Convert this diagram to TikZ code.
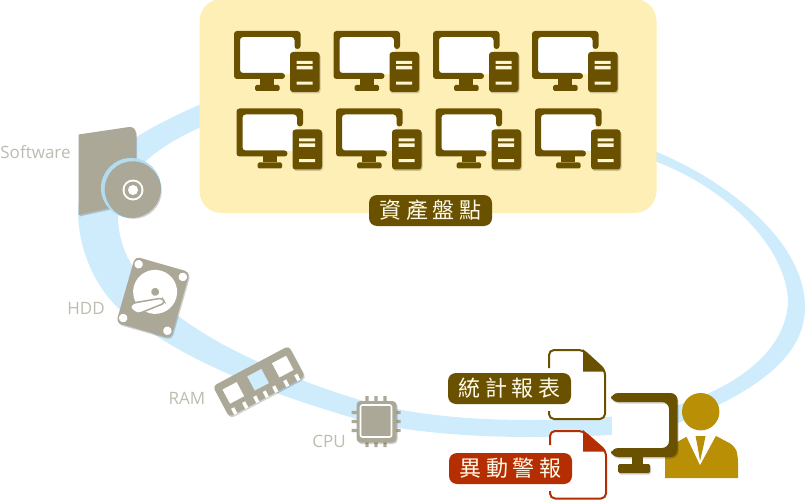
\documentclass[tikz,border=0pt]{standalone}
\usepackage{fontspec}
\setmainfont{Open Sans}
\newfontfamily\cjk[LetterSpace=20]{Noto Sans CJK TC}
\usetikzlibrary{shadows}
\definecolor{myband}{RGB}{207,236,253}
\definecolor{myring}{RGB}{178,220,240}
\definecolor{myyellow}{RGB}{253,239,181}
\definecolor{mybrown}{RGB}{105,81,0}
\definecolor{mygray}{RGB}{172,168,152}
\definecolor{myred}{RGB}{181,46,2}
\definecolor{mygold}{RGB}{184,143,5}
\definecolor{mylabel}{RGB}{190,187,175}
\tikzset{
  softshadow/.style={drop shadow={shadow xshift=1pt,shadow yshift=-1.5pt,opacity=.18,fill=black}},
  pill/.style={rounded corners=8pt,text=myyellow!30!white,font=\cjk\fontsize{22}{26}\selectfont,
    minimum height=31pt,inner sep=0pt,anchor=center},
  partlabel/.style={text=mylabel,font=\fontsize{17}{20}\selectfont,inner sep=0pt},
  pc/.pic={
    \fill[white] (5,5) rectangle (61,43);
    \fill[mybrown,even odd rule,rounded corners=3pt] (0,0) -- (66.5,0) -- (66.5,18) -- (60.5,18) -- (60.5,6) -- (6,6) -- (6,42) -- (51,42) -- (51,48) -- (0,48) -- cycle;
    \fill[mybrown] (26,48) rectangle (40,54);
    \fill[mybrown,rounded corners=1.5pt] (21,54) rectangle (45.5,60);
    \fill[mybrown,rounded corners=3pt,softshadow] (56,21) rectangle (85.5,61);
    \fill[myyellow!60!white] (62.5,30) rectangle (78.5,33) (62.5,35) rectangle (78.5,38.3) (62.5,50.7) rectangle (78.5,53.7);
  }
}
\begin{document}
\begin{tikzpicture}[x=1pt,y=-1pt]
\useasboundingbox (0,0) rectangle (806,500);

% blue band
\fill[myband,even odd rule]
  (78,210) .. controls (78,170) and (130,135) .. (199,105)
  .. controls (350,75) and (540,105) .. (657,152)
  .. controls (735,185) and (805,245) .. (805,307)
  .. controls (805,355) and (760,390) .. (678,423)
  .. controls (650,434) and (600,437) .. (530,437)
  .. controls (470,437) and (400,432) .. (353,418)
  .. controls (280,396) and (185,365) .. (117,307)
  .. controls (95,285) and (78,250) .. (78,210) -- cycle
  (118,215) .. controls (118,180) and (150,150) .. (199,128)
  .. controls (340,85) and (540,120) .. (657,162)
  .. controls (730,190) and (788,250) .. (788,303)
  .. controls (785,350) and (740,385) .. (678,405)
  .. controls (650,414) and (600,420) .. (530,420)
  .. controls (470,420) and (410,415) .. (360,400)
  .. controls (300,382) and (205,345) .. (160,300)
  .. controls (135,275) and (118,250) .. (118,215) -- cycle;

% asset box
\fill[myyellow,rounded corners=22pt] (199.5,-1) rectangle (656.5,213);
\foreach \x in {234,333.5,433,532}
  \pic at (\x,31) {pc};
\foreach \x in {236.5,336,435.5,535}
  \pic at (\x,108.5) {pc};
\node[pill,fill=mybrown,minimum width=123pt] (assets) at (430.5,210.5) {資產盤點};

% software
\fill[mygray,softshadow] (78.5,134.5) -- (129,127) .. controls (134,126.5) and (136,130) .. (136,135) -- (136,200) -- (110,208) -- (78.5,215) -- cycle;
\fill[myring] (131,188) circle (30pt);
\fill[mygray,softshadow] (132.7,189.3) circle (28pt);
\fill[white] (133,190) circle (10.5pt);
\fill[mygray] (133,190) circle (8.5pt);
\fill[white] (133,190) circle (5pt);
\node[partlabel] (software) at (35.5,152) {Software};

% hdd
\begin{scope}[shift={(153,297.5)},rotate=-16]
  \fill[mygray,rounded corners=5pt,softshadow] (-28.5,-34.5) rectangle (28.5,34.5);
  \foreach \x/\y in {-23/-28,23/-28,-23/28,23/28}
    \fill[white] (\x,\y) circle (4.3pt);
  \fill[white] (0.5,-6) circle (22pt);
  \fill[mygray] (0.5,-6) circle (4pt);
  \draw[mygray,fill=white,line width=1.5pt,rounded corners=3pt] (-19,17) -- (-19,12) -- (-14,9) -- (9,-2) -- (13,2) -- (-10,20) -- cycle;
\end{scope}
\node[partlabel] (hdd) at (86,308.5) {HDD};

% ram
\begin{scope}[shift={(259,381.5)},rotate=28]
  \fill[mygray,rounded corners=4pt,softshadow] (-43,-17.5) rectangle (43,17.5);
  \fill[white] (-37.5,11) rectangle (-34,17.8) (-25,11) rectangle (-21.5,17.8) (-12.5,11) rectangle (-9,17.8) (-1.7,11) rectangle (1.7,17.8) (9,11) rectangle (12.5,17.8) (21.5,11) rectangle (25,17.8) (34,11) rectangle (37.5,17.8);
  \fill[white] (-36,-10) rectangle (-20,6) (20,-10) rectangle (36,6);
  \fill[myband] (-8,-10) rectangle (8,6);
\end{scope}
\node[partlabel] (ram) at (187,398.5) {RAM};

% cpu
\fill[mygray] \foreach \p in {-9,0,9} {(376+\p-1.7,396) rectangle (376+\p+1.7,447) (351.5,421.5+\p-1.7) rectangle (400.5,421.5+\p+1.7)};
\fill[mygray,rounded corners=4pt,softshadow] (356.5,401) rectangle (396.5,442.5);
\draw[white,line width=1.6pt,rounded corners=2pt] (360.5,405) rectangle (391.5,437);
\node[partlabel] (cpu) at (329,441.5) {CPU};

% report files
\fill[white] (549,350) -- (583,350) -- (605,370) -- (605,419) -- (549,419) -- cycle;
\draw[mybrown,line width=2pt,rounded corners=5pt] (549,368) -- (549,350) -- (583,350) -- (605,370) -- (605,419) -- (549,419) -- (549,411);
\fill[mybrown] (583,349) -- (605,371.5) -- (583,371.5) -- cycle;
\fill[white] (550,431) -- (583,431) -- (606,451) -- (606,499) -- (550,499) -- cycle;
\draw[myred,line width=2pt,rounded corners=5pt] (550,445) -- (550,431) -- (583,431) -- (606,451) -- (606,498.5) -- (550,498.5) -- (550,491);
\fill[myred] (583,430) -- (605.5,451.5) -- (583,451.5) -- cycle;
\node[pill,fill=mybrown,minimum width=123pt] (report) at (509.5,388.5) {統計報表};
\node[pill,fill=myred,minimum width=123pt] (alert) at (510.5,468.5) {異動警報};

% person
\fill[mygold] (700.7,411.7) circle (18.7pt);
\fill[mygold] (665,478) -- (665,449) -- (686,437) -- (716,436) [rounded corners=6pt] -- (735,446) -- (738,456) [sharp corners] -- (738,478) -- cycle;
\fill[white] (686,435.5) -- (700,465) -- (716,435.5) -- cycle;
\fill[mygold] (695.5,436) -- (705.5,436) -- (703.5,446) -- (700,461) -- (697.5,446) -- cycle;

% monitor
\fill[white] (611.5,402) rectangle (669,448);
\fill[mybrown,rounded corners=7pt,softshadow] (611,393) -- (677.5,393) -- (677.5,457) -- (611,457) -- (611,448) -- (669,448) -- (669,402) -- (611,402) -- cycle;
\fill[mybrown] (632,457) rectangle (643,465);
\fill[mybrown,rounded corners=1.5pt,softshadow] (618,464) rectangle (650,473);
\end{tikzpicture}
\end{document}
